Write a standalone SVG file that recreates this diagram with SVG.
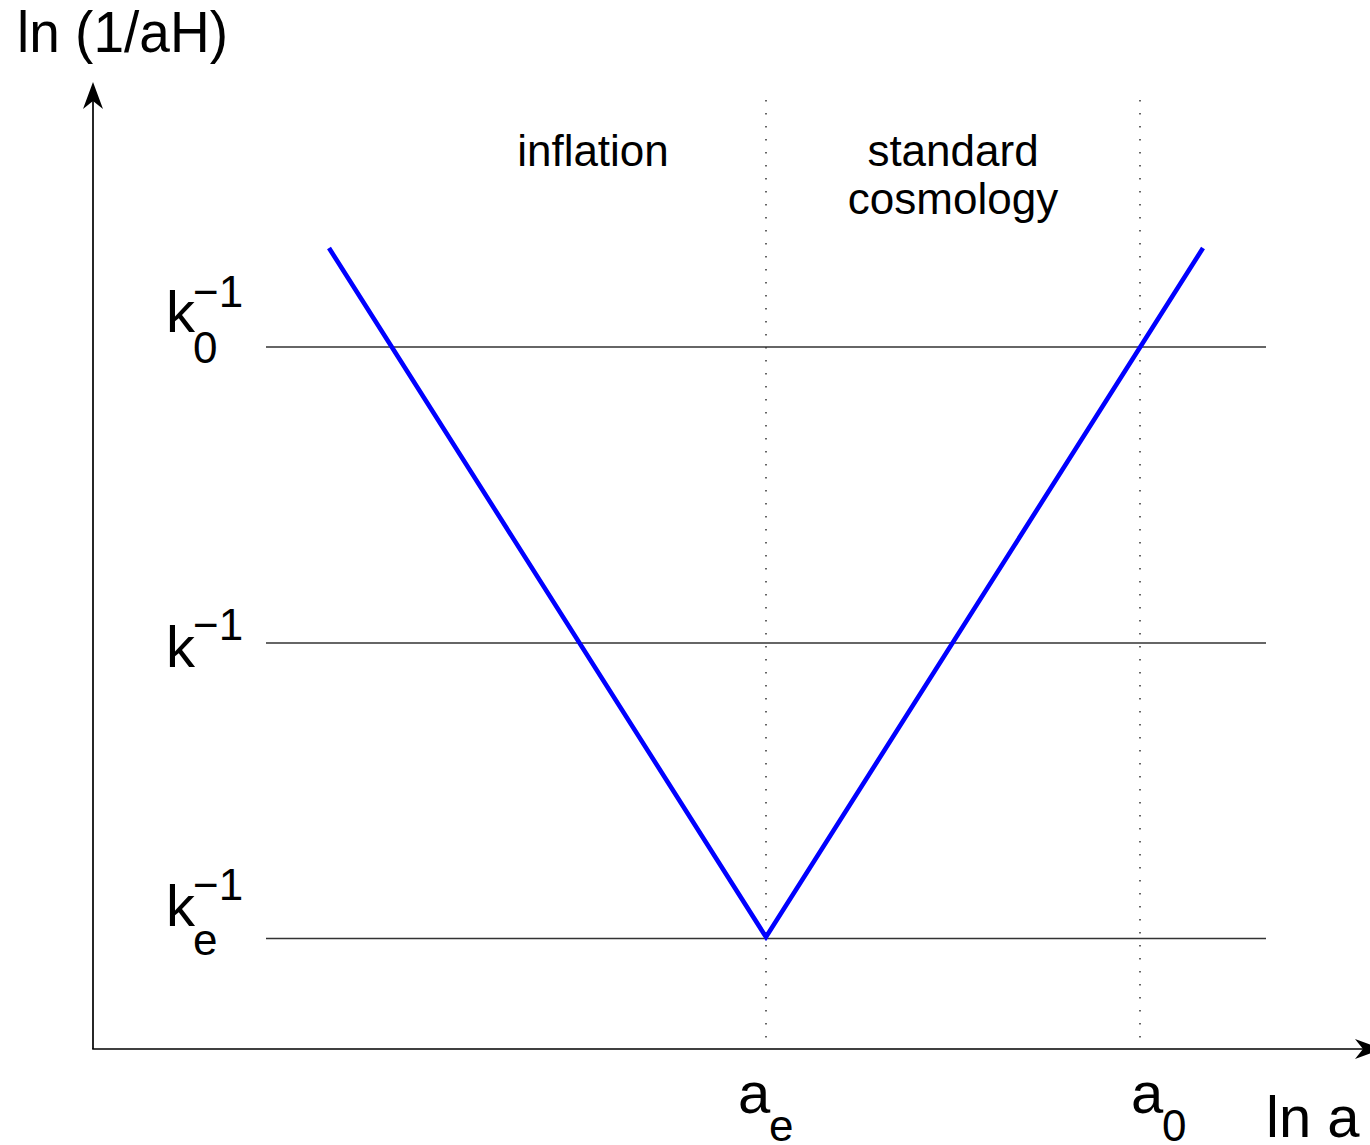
<svg xmlns="http://www.w3.org/2000/svg" width="1370" height="1145" viewBox="0 0 1370 1145">
<style>
text{font-family:"Liberation Sans",Arial,sans-serif;fill:#000}
.big{font-size:58px}
.sm{font-size:44px}
.mid{font-size:44px}
.h{stroke:#333;stroke-width:1.5;fill:none}
.dot{stroke:#333;stroke-width:1.5;stroke-dasharray:1.5 11.5;fill:none}
.axis{stroke:#000;stroke-width:1.7;fill:none}
.curve{stroke:#0000ff;stroke-width:4.6;fill:none;stroke-linejoin:miter}
</style>
<rect width="1370" height="1145" fill="#fff"/>
<g id="connectors">
<line class="dot" x1="766" y1="100" x2="766" y2="1046"/>
<line class="dot" x1="1140" y1="100" x2="1140" y2="1046"/>
<line class="h" x1="266" y1="347" x2="1266" y2="347"/>
<line class="h" x1="266" y1="643" x2="1266" y2="643"/>
<line class="h" x1="266" y1="938.5" x2="1266" y2="938.5"/>
<polyline class="curve" points="329,248 766,937 1203,248"/>
<line class="axis" x1="93" y1="1049" x2="93" y2="100"/>
<line class="axis" x1="92.2" y1="1049" x2="1363" y2="1049"/>
<path d="M93,82 L103,109 L93,101 L83,109 Z" fill="#000"/>
<path d="M1382,1049 L1355,1039 L1363,1049 L1355,1059 Z" fill="#000"/>
</g>
<g id="ylabel"><text class="big" x="17" y="52" textLength="211" lengthAdjust="spacingAndGlyphs">ln (1/aH)</text></g>
<g id="inflation"><text class="mid" x="593" y="166" text-anchor="middle">inflation</text></g>
<g id="standard"><text class="mid" x="953" y="166" text-anchor="middle">standard</text><text class="mid" x="953" y="214" text-anchor="middle">cosmology</text></g>
<g id="k0"><text class="big" x="166" y="332">k</text><text class="sm" x="193" y="307">−1</text><text class="sm" x="193" y="363">0</text></g>
<g id="k"><text class="big" x="166" y="667">k</text><text class="sm" x="193" y="640">−1</text></g>
<g id="ke"><text class="big" x="166" y="926">k</text><text class="sm" x="193" y="900">−1</text><text class="sm" x="193" y="955">e</text></g>
<g id="ae"><text class="big" x="738" y="1113">a</text><text class="sm" x="769" y="1141">e</text></g>
<g id="a0"><text class="big" x="1131" y="1113">a</text><text class="sm" x="1162" y="1141">0</text></g>
<g id="xlabel"><text class="big" x="1266" y="1137">ln a</text></g>
</svg>
